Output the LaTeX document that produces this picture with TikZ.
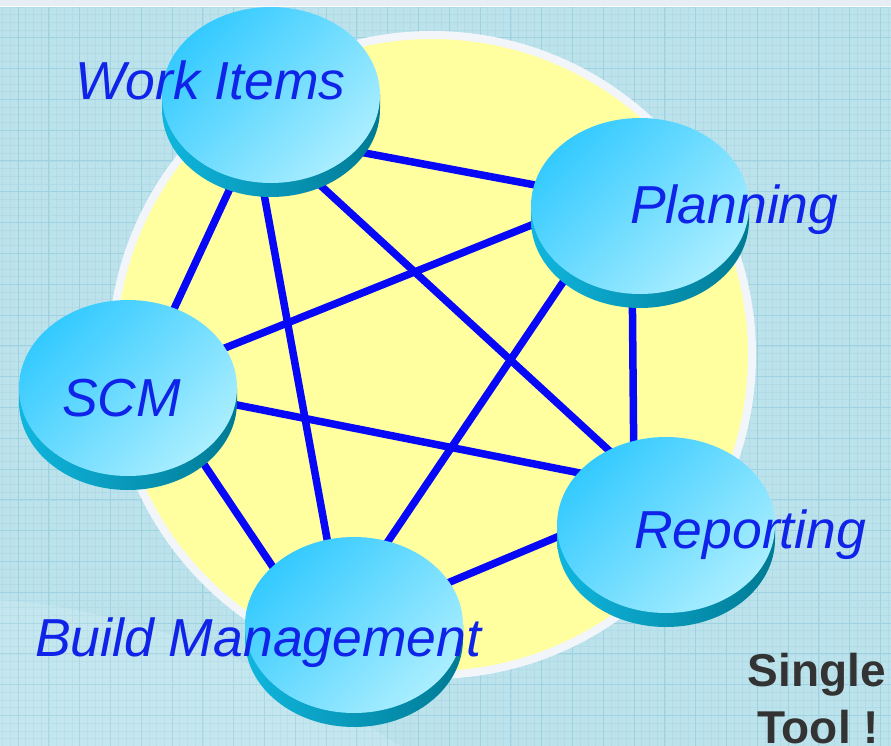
\documentclass[tikz,border=0pt]{standalone}
\usepackage{fontspec}
\setmainfont{Liberation Sans}
\usetikzlibrary{calc}
\definecolor{bg}{HTML}{BCE3EC}
\definecolor{gridmaj}{HTML}{9ED2E0}
\definecolor{gridmin}{HTML}{B0DBE7}
\definecolor{topstrip}{HTML}{E6EDF5}
\definecolor{yell}{HTML}{FFFFA0}
\definecolor{rim}{HTML}{F2F5FA}
\definecolor{linkblue}{HTML}{0808F8}
\definecolor{txtblue}{HTML}{0F24E8}
\definecolor{faceA}{HTML}{34CAFF}
\definecolor{faceB}{HTML}{AAEEFF}
\definecolor{sideL}{HTML}{10B6DE}
\definecolor{sideR}{HTML}{007A94}
\definecolor{dark}{HTML}{333333}
\newcommand\mydisk[2]{%
  \coordinate (#1) at (#2);
  \path[left color=sideL, right color=sideR] ($(#1)+(-109,0)$) rectangle ($(#1)+(109,14)$);
  \path[left color=sideL, right color=sideR] ($(#1)+(0,14)$) ellipse[x radius=109, y radius=88];
  \path[top color=faceA, bottom color=faceB, shading angle=45] (#1) ellipse[x radius=109, y radius=88];
}
\begin{document}
\begin{tikzpicture}[x=1pt,y=-1pt,
  conn/.style={draw=linkblue, line width=7.5pt},
  lbl/.style={inner sep=0pt, text=txtblue, font=\fontsize{53.5}{60}\selectfont\itshape},
  big/.style={inner sep=0pt, text=dark, font=\fontsize{46}{54}\selectfont\bfseries}]
\useasboundingbox (0,0) rectangle (891,746);
% background
\fill[bg] (0,0) rectangle (891,746);
\foreach \i in {0,...,115} \draw[gridmin, line width=0.6pt] ({2.6+7.7*\i},7) -- ({2.6+7.7*\i},746);
\foreach \i in {0,...,96} \draw[gridmin, line width=0.6pt] (0,{7+7.7*\i}) -- (891,{7+7.7*\i});
\foreach \i in {0,...,28} \draw[gridmaj, line width=1pt] ({18+30.8*\i},7) -- ({18+30.8*\i},746);
\foreach \i in {0,...,24} \draw[gridmaj, line width=1pt] (0,{7+30.8*\i}) -- (891,{7+30.8*\i});
\fill[white, opacity=0.12] (0,600) .. controls (150,610) and (300,680) .. (400,746) -- (0,746) -- cycle;
\fill[topstrip] (0,0) rectangle (891,6);
\draw[white, line width=1.5pt] (0,6.5) -- (891,6.5);
% big circle
\coordinate (hub) at (432,355);
\draw[rim, line width=8pt, fill=yell] (hub) circle[radius=320];
% disk centres
\coordinate (wi) at (271,95);
\coordinate (pl) at (640,206);
\coordinate (scm) at (128,388);
\coordinate (rep) at (666,525);
\coordinate (bm) at (354,625);
% connectors
\draw[conn] ($(wi)+(54,50.5)$) -- ($(pl)+(-65,-13.5)$);
\draw[conn] ($(wi)+(-32,74)$) -- ($(scm)+(32,-49)$);
\draw[conn] ($(wi)+(-13,66)$) -- ($(bm)+(-20,-48)$);
\draw[conn] ($(wi)+(36,78)$) -- ($(rep)+(-26,-46)$);
\draw[conn] ($(pl)+(-71,4)$) -- ($(scm)+(62,-26)$);
\draw[conn] ($(pl)+(-58,48)$) -- ($(bm)+(14,-54)$);
\draw[conn] ($(pl)+(-8,54)$) -- ($(rep)+(-32,-45)$);
\draw[conn] ($(scm)+(69,9)$) -- ($(rep)+(-51,-45)$);
\draw[conn] ($(scm)+(53,42)$) -- ($(bm)+(-59,-25)$);
\draw[conn] ($(bm)+(59,-27.5)$) -- ($(rep)+(-72,-3.5)$);
% disks
\mydisk{wi}{271,95}
\mydisk{pl}{640,206}
\mydisk{scm}{128,388}
\mydisk{rep}{666,525}
\mydisk{bm}{354,625}
% labels
\node[lbl, anchor=base west] (lwi) at (75,100) {Work Items};
\node[lbl, anchor=base west] (lpl) at (630,223) {Planning};
\node[lbl, anchor=base west] (lscm) at (62,416) {SCM};
\node[lbl, anchor=base west] (lrep) at (634,548) {Reporting};
\node[lbl, anchor=base west] (lbm) at (35,656) {Build Management};
\node[big, anchor=base] (single) at (817,686) {Single};
\node[big, anchor=base] (tool) at (818,743) {Tool !};
\end{tikzpicture}
\end{document}
